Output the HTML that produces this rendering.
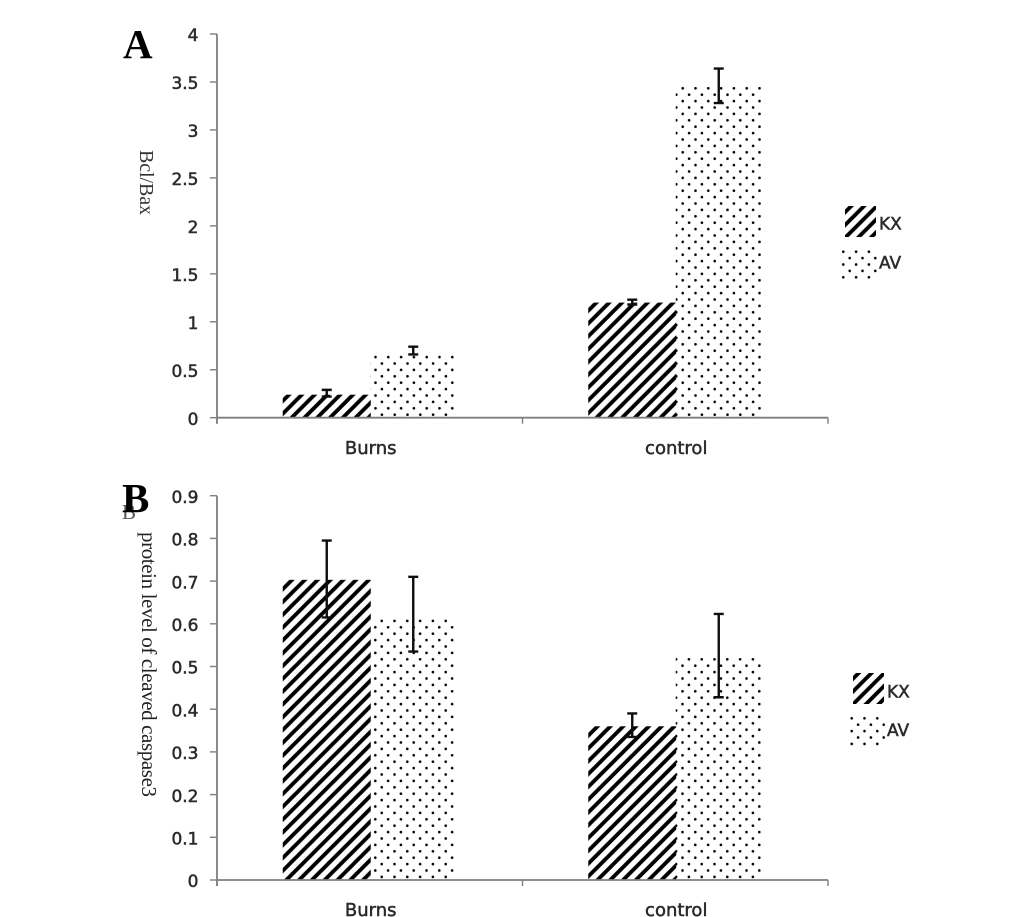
<!DOCTYPE html>
<html>
<head>
<meta charset="utf-8">
<title>Bcl/Bax and cleaved caspase3 charts</title>
<style>
html,body{margin:0;padding:0;background:#fff;}
body{width:1033px;height:917px;overflow:hidden;}
svg{display:block;}
.tick{font-family:"DejaVu Sans","Liberation Sans",sans-serif;font-size:17px;fill:#2b2b2b;stroke:#2b2b2b;stroke-width:0.5px;}
.cat{font-size:18px;}
.serif{font-family:"Liberation Serif",serif;}
</style>
</head>
<body>
<svg id="figure" xmlns="http://www.w3.org/2000/svg" width="1033" height="917" viewBox="0 0 1033 917">
  <defs id="defs">
    <filter id="soft" x="-5%" y="-5%" width="110%" height="110%"><feGaussianBlur stdDeviation="0.35"/></filter>
  </defs>
  <g id="root" filter="url(#soft)">
    <text class="serif" x="123" y="58" font-size="41" font-weight="bold" fill="#000">A</text>
    <text class="serif" x="122" y="519" font-size="21" fill="#555">B</text>
    <text class="serif" x="122" y="512" font-size="41" font-weight="bold" fill="#000">B</text>
    <text class="serif" transform="translate(140 150) rotate(90)" font-size="20" fill="#333" textLength="65">Bcl/Bax</text>
    <text class="serif" transform="translate(142 532) rotate(90)" font-size="21" fill="#222" textLength="265">protein level of cleaved caspase3</text>
  </g>
</svg>
<script>
var categories = ['Burns', 'control'];
var seriesNames = ['KX', 'AV'];

var panelAKx = [0.24, 1.2];
var panelAAv = [0.65, 3.45];
var panelAKxHigh = [0.29, 1.23];
var panelAKxLow = [0.22, 1.18];
var panelAAvHigh = [0.74, 3.64];
var panelAAvLow = [0.66, 3.28];
var panelATicks = ['0', '0.5', '1', '1.5', '2', '2.5', '3', '3.5', '4'];

var panelBKx = [0.703, 0.36];
var panelBAv = [0.61, 0.52];
var panelBKxHigh = [0.795, 0.39];
var panelBKxLow = [0.615, 0.335];
var panelBAvHigh = [0.71, 0.623];
var panelBAvLow = [0.535, 0.428];
var panelBTicks = ['0', '0.1', '0.2', '0.3', '0.4', '0.5', '0.6', '0.7', '0.8', '0.9'];

var NS = 'http://www.w3.org/2000/svg';
var root = document.getElementById('root');
var defs = document.getElementById('defs');

function mk(tag, attrs, parent) {
  var el = document.createElementNS(NS, tag);
  for (var k in attrs) el.setAttribute(k, attrs[k]);
  parent.appendChild(el);
  return el;
}

function hatchPattern(id, phase) {
  var h = mk('pattern', {id: id, patternUnits: 'userSpaceOnUse', width: 12.8, height: 12.8, patternTransform: 'translate(' + phase + ' 0)'}, defs);
  mk('path', {d: 'M-3.2 3.2L3.2 -3.2M0 12.8L12.8 0M9.6 16L16 9.6', stroke: '#000', 'stroke-width': 3.9, fill: 'none'}, h);
}

function dotPattern(id, ox, oy) {
  var d = mk('pattern', {id: id, patternUnits: 'userSpaceOnUse', width: 12.8, height: 12.8, patternTransform: 'translate(' + (ox - 3.2) + ' ' + (oy - 3.2) + ')'}, defs);
  mk('circle', {cx: 3.2, cy: 3.2, r: 1.3, fill: '#000'}, d);
  mk('circle', {cx: 9.6, cy: 9.6, r: 1.3, fill: '#000'}, d);
}

function drawPanel(p) {
  var axisColor = '#7f7f7f';
  var left = 217, right = 828;
  var yMax = parseFloat(p.ticks[p.ticks.length - 1]);
  function yScale(v) { return p.y0 - (v / yMax) * (p.y0 - p.yTop); }
  function xCenter(i) { return left + (i + 0.5) * (right - left) / categories.length; }

  var g = mk('g', {}, root);
  
  

  dotPattern('dots-' + p.id, p.dotOrigin.x, p.dotOrigin.y);
  hatchPattern('legend-hatch-' + p.id, p.legendPhase);
  dotPattern('legend-dots-' + p.id, p.legendDot.x, p.legendDot.y);

  categories.forEach(function (cat, i) {
    var c = xCenter(i);
    hatchPattern('hatch-' + p.id + '-' + i, p.hatchPhase[i]);
    var kxBar = mk('rect', {x: c - 87, y: yScale(p.kx[i]), width: 88, height: p.y0 - yScale(p.kx[i]), fill: 'url(#hatch-' + p.id + '-' + i + ')'}, g);
    
    
    var avBar = mk('rect', {x: c + 0.5, y: yScale(p.av[i]), width: 85.5, height: p.y0 - yScale(p.av[i]), fill: 'url(#dots-' + p.id + ')'}, g);
    
    
  });

  function errorBar(cx, hi, lo, name) {
    var e = mk('path', {
      d: 'M' + (cx - 5) + ' ' + yScale(hi) + 'H' + (cx + 5) +
         'M' + cx + ' ' + yScale(hi) + 'V' + yScale(lo) +
         'M' + (cx - 5) + ' ' + yScale(lo) + 'H' + (cx + 5),
      stroke: '#111', 'stroke-width': 2.4, fill: 'none'
    }, g);
    
    
  }
  categories.forEach(function (cat, i) {
    var c = xCenter(i);
    errorBar(c - 43, p.kxHigh[i], p.kxLow[i], 'error-bar-kx-' + cat.toLowerCase());
    errorBar(c + 43.5, p.avHigh[i], p.avLow[i], 'error-bar-av-' + cat.toLowerCase());
  });

  var yAxis = mk('line', {x1: left, x2: left, y1: yScale(yMax), y2: p.y0 + 6, stroke: axisColor, 'stroke-width': 1.8}, g);
  
  
  var xAxis = mk('line', {x1: left, x2: right, y1: p.y0, y2: p.y0, stroke: axisColor, 'stroke-width': 1.8}, g);
  
  

  p.ticks.forEach(function (t) {
    var y = yScale(parseFloat(t));
    var tm = mk('line', {x1: left - 7, x2: left, y1: y, y2: y, stroke: axisColor, 'stroke-width': 1.4}, g);
    
    
    var tl = mk('text', {x: 198.5, y: y + 7.2, 'text-anchor': 'end', 'class': 'tick'}, g);
    
    
    tl.textContent = t;
  });

  [0, 1, 2].forEach(function (i) {
    var x = left + i * (right - left) / categories.length;
    var tm = mk('line', {x1: x, x2: x, y1: p.y0, y2: p.y0 + 6, stroke: axisColor, 'stroke-width': 1.4}, g);
    
    
  });

  categories.forEach(function (cat, i) {
    var tl = mk('text', {x: xCenter(i) + 1, y: p.labelY, 'text-anchor': 'middle', 'class': 'tick cat'}, g);
    
    
    tl.textContent = cat;
  });

  seriesNames.forEach(function (name, i) {
    var e = p.legend[i];
    var entry = mk('g', {}, g);
    
    
    mk('rect', {x: e.x, y: e.y, width: e.w, height: e.h, fill: i === 0 ? 'url(#legend-hatch-' + p.id + ')' : 'url(#legend-dots-' + p.id + ')'}, entry);
    var txt = mk('text', {x: e.tx, y: e.ty, 'class': 'tick'}, entry);
    txt.textContent = name;
  });
}

drawPanel({
  id: 'a', y0: 417.7, yTop: 34, labelY: 454,
  ticks: panelATicks, kx: panelAKx, av: panelAAv,
  kxHigh: panelAKxHigh, kxLow: panelAKxLow, avHigh: panelAAvHigh, avLow: panelAAvLow,
  hatchPhase: [5.3, 3], dotOrigin: {x: 676.3, y: 94.7},
  legendPhase: 7.7, legendDot: {x: 843.3, y: 251.7},
  legend: [
    {x: 845, y: 206, w: 31, h: 31, tx: 879, ty: 229.5},
    {x: 842, y: 250, w: 35, h: 29, tx: 879, ty: 268.5}
  ]
});
drawPanel({
  id: 'b', y0: 880, yTop: 495.7, labelY: 916,
  ticks: panelBTicks, kx: panelBKx, av: panelBAv,
  kxHigh: panelBKxHigh, kxLow: panelBKxLow, avHigh: panelBAvHigh, avLow: panelBAvLow,
  hatchPhase: [1.5, 5.5], dotOrigin: {x: 676.1, y: 659.3},
  legendPhase: 8.5, legendDot: {x: 851.7, y: 718.3},
  legend: [
    {x: 853, y: 673, w: 31, h: 31, tx: 887, ty: 697.5},
    {x: 850, y: 717, w: 35, h: 29, tx: 887, ty: 736}
  ]
});
</script>
</body>
</html>
